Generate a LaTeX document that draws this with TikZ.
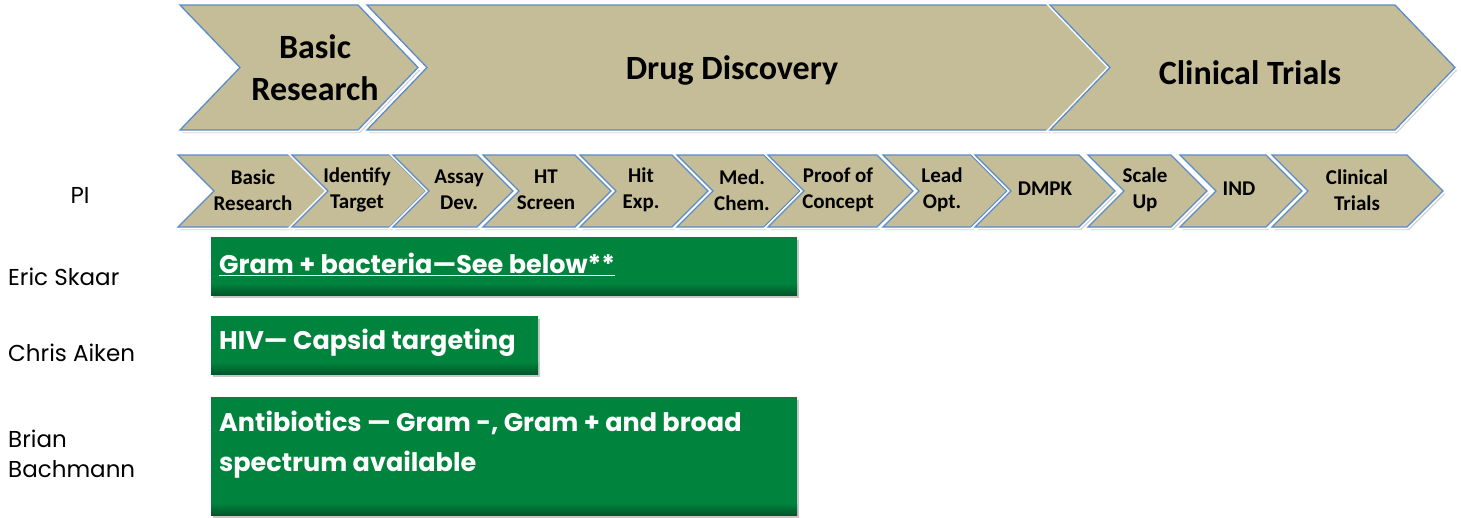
\documentclass[tikz,border=0pt]{standalone}
\usepackage{fontspec}
\setmainfont{Carlito}
\newfontfamily\gothic{Poppins}
\definecolor{tanfill}{HTML}{C4BD97}
\definecolor{chevblue}{HTML}{5B8BC9}
\definecolor{grn}{HTML}{00843D}
\definecolor{grndark}{HTML}{00572A}
\newcommand\chevp[5]{(#1,#3) -- ({#2-#5},#3) -- (#2,{(#3+#4)/2}) -- ({#2-#5},#4) -- (#1,#4) -- ({#1+#5},{(#3+#4)/2}) -- cycle}
\tikzset{
  chevfill/.style={fill=tanfill, draw=chevblue, line width=1.3pt, line join=miter},
  chevhalo/.style={draw=white, line width=4.5pt, line join=miter},
  chevshadow/.style={fill=black, opacity=0.18},
  bigtxt/.style={font=\bfseries\fontsize{34}{42}\selectfont, align=center, inner sep=0pt},
  smalltxt/.style={font=\bfseries\fontsize{21}{26}\selectfont, align=center, inner sep=0pt},
  bartxt/.style={font=\gothic\bfseries\fontsize{25.5}{40}\selectfont, text=white, anchor=west, align=left, inner sep=0pt},
  nametxt/.style={font=\gothic\fontsize{23}{30}\selectfont, anchor=west, align=left, inner sep=0pt},
  barfill/.style={fill=grn},
  barshade/.style={top color=grn, bottom color=grndark},
  barshadow/.style={fill=black, opacity=0.22},
}
\begin{document}
\begin{tikzpicture}[x=1pt,y=-1pt]
\useasboundingbox (0,0) rectangle (1461,517);
% ---- top chevrons ----
\foreach \l/\t in {180/418, 367/1108, 1050/1455}
  \fill[chevshadow, xshift=2pt, yshift=-3pt] \chevp{\l}{\t}{5}{130}{60};
\foreach \l/\t in {180/418, 367/1108, 1050/1455}{
  \draw[chevhalo] \chevp{\l}{\t}{5}{130}{60};
  \draw[chevfill] \chevp{\l}{\t}{5}{130}{60};
}
\node[bigtxt] (bBasic) at (315,68) {Basic\\Research};
\node[bigtxt] (bDrug) at (732,70) {Drug Discovery};
\node[bigtxt] (bClin) at (1250,73) {Clinical Trials};
% ---- small chevrons ----
\foreach \l/\t in {178/326, 292/426, 393/513, 483/611, 580/708, 677/800, 768/913, 883/1007, 975/1115, 1088/1207, 1180/1302, 1272/1443}
  \fill[chevshadow, xshift=2pt, yshift=-3pt] \chevp{\l}{\t}{155}{227}{36};
\foreach \l/\t in {178/326, 292/426, 393/513, 483/611, 580/708, 677/800, 768/913, 883/1007, 975/1115, 1088/1207, 1180/1302, 1272/1443}{
  \draw[chevhalo] \chevp{\l}{\t}{155}{227}{36};
  \draw[chevfill] \chevp{\l}{\t}{155}{227}{36};
}
\node[smalltxt] (s1) at (253,190) {Basic\\Research};
\node[smalltxt] (s2) at (357,190) {Identify\\Target};
\node[smalltxt] (s3) at (459,190) {Assay\\Dev.};
\node[smalltxt] (s4) at (546,190) {HT\\Screen};
\node[smalltxt] (s5) at (641,190) {Hit\\Exp.};
\node[smalltxt] (s6) at (742,190) {Med.\\Chem.};
\node[smalltxt] (s7) at (838,190) {Proof of\\Concept};
\node[smalltxt] (s8) at (942,190) {Lead\\Opt.};
\node[smalltxt] (s9) at (1045,189) {DMPK};
\node[smalltxt] (s10) at (1145,190) {Scale\\Up};
\node[smalltxt] (s11) at (1239,189) {IND};
\node[smalltxt] (s12) at (1357,190) {Clinical\\Trials};
% ---- green bars ----
\foreach \a/\b/\c/\d in {211/237/797/295, 211/316/538/374, 211/397/797/515}{
  \fill[barshadow, xshift=2pt, yshift=-3pt] (\a,\b) rectangle (\c,\d);
  \fill[barfill] (\a,\b) rectangle (\c,\d);
  \shade[barshade] (\a,{\d-12}) rectangle (\c,\d);
}
\node[bartxt] (g1) at (219,264) {\underline{Gram + bacteria—See below**}};
\node[bartxt] (g2) at (219,343) {HIV— Capsid targeting};
\node[bartxt] (g3) at (219,445) {Antibiotics — Gram -, Gram + and broad\\spectrum available};
% ---- PI names ----
\node[nametxt, anchor=center] (pi) at (80,195) {PI};
\node[nametxt] (n1) at (8,277) {Eric Skaar};
\node[nametxt] (n2) at (8,353) {Chris Aiken};
\node[nametxt] (n3) at (8,454) {Brian\\Bachmann};
\end{tikzpicture}
\end{document}
